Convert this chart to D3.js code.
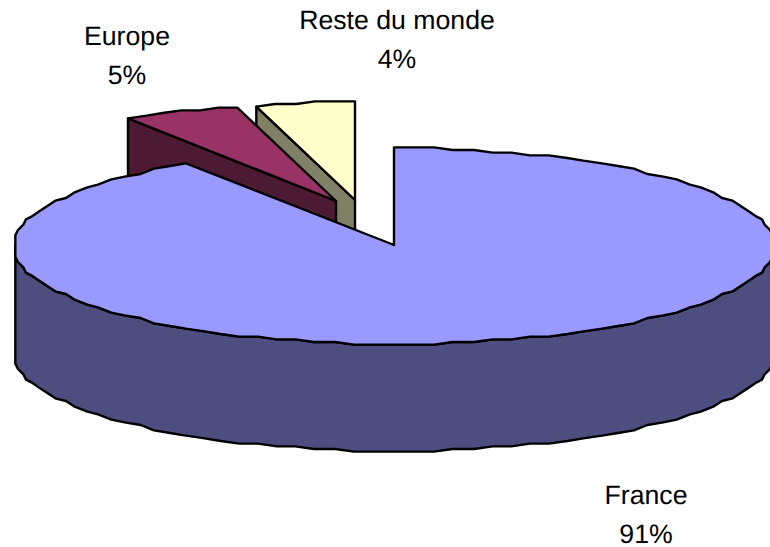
<!DOCTYPE html>
<html>
<head>
<meta charset="utf-8">
<script src="https://cdn.jsdelivr.net/npm/d3@7/dist/d3.min.js"></script>
<style>
html,body{margin:0;padding:0;background:#fff;overflow:hidden}
svg{display:block}
text{font-family:"Liberation Sans",Arial,sans-serif;font-size:26.67px;fill:#000;text-anchor:middle;text-rendering:geometricPrecision}
</style>
</head>
<body>
<svg id="c" width="770" height="547"></svg>
<script>
// Data
const categories = ["France", "Europe", "Reste du monde"];
const shares = [90.8, 5.0, 4.2];

// Styles and layout
const topColors = ["#9999FF", "#993366", "#FFFFCC"];
const sideColors = ["#4D4D80", "#4D1A33", "#808066"];
const apexOffsets = [[0, 0], [-58, -45], [-39, -46]];
const labelAnchors = [[646, 504], [127, 45], [397, 29]];
const lineGap = 38.5;
const W = 770, H = 547;
const cx = 394, cy = 246, rx = 380, ry = 98, depth = 107;
const grid = 8 / 3, sampleStep = Math.PI / 60;

const svg = d3.select("#c");
const pie = d3.pie().sort(null).value(d => d).startAngle(0).endAngle(2 * Math.PI);
const arcs = pie(shares);
const xScale = d3.scaleLinear().domain([-1, 1]).range([-rx, rx]);
const yScale = d3.scaleLinear().domain([-1, 1]).range([-ry, ry]);
const snap = v => Math.round(v / grid) * grid;
const line = d3.line();

// Rim points sit on one fixed angular grid, so the rim of the top and of the wall coincide.
function rim(a0, a1, ox, oy) {
  const inner = d3.range(Math.ceil(a0 / sampleStep + 1e-6), Math.floor(a1 / sampleStep - 1e-6) + 1)
    .map(k => k * sampleStep);
  return [a0, ...inner, a1].map(t =>
    [ox + snap(xScale(Math.sin(t))), oy + snap(yScale(-Math.cos(t)))]);
}

function drawSlice(i) {
  const a = arcs[i];
  const ox = cx + apexOffsets[i][0], oy = cy + apexOffsets[i][1];
  const apex = [ox, oy - (i === 0 ? 1 : 0)];
  const outer = rim(a.startAngle, a.endAngle, ox, oy);
  const g = svg.append("g")
    .attr("stroke", "#000").attr("stroke-width", 2.4).attr("stroke-linejoin", "round");

  if (i === 0) {
    const front = rim(Math.PI / 2, 3 * Math.PI / 2, ox, oy);
    const base = front.map(p => [p[0], p[1] + depth]).reverse();
    g.append("path").attr("fill", sideColors[i]).attr("d", line(front.concat(base)) + "Z");
  } else {
    const corner = outer[0];
    const wall = [corner, apex, [apex[0], apex[1] + depth], [corner[0], corner[1] + depth]];
    g.append("path").attr("fill", sideColors[i]).attr("d", line(wall) + "Z");
  }
  g.append("path").attr("fill", topColors[i]).attr("d", line([apex].concat(outer)) + "Z");
}

// Back slices first, then the large slice on top of their walls
[2, 1, 0].forEach(drawSlice);

// Labels
categories.forEach((name, i) => {
  svg.append("text").attr("x", labelAnchors[i][0]).attr("y", labelAnchors[i][1]).text(name);
  svg.append("text").attr("x", labelAnchors[i][0]).attr("y", labelAnchors[i][1] + lineGap)
    .text(Math.round(shares[i]) + "%");
});
</script>
</body>
</html>
